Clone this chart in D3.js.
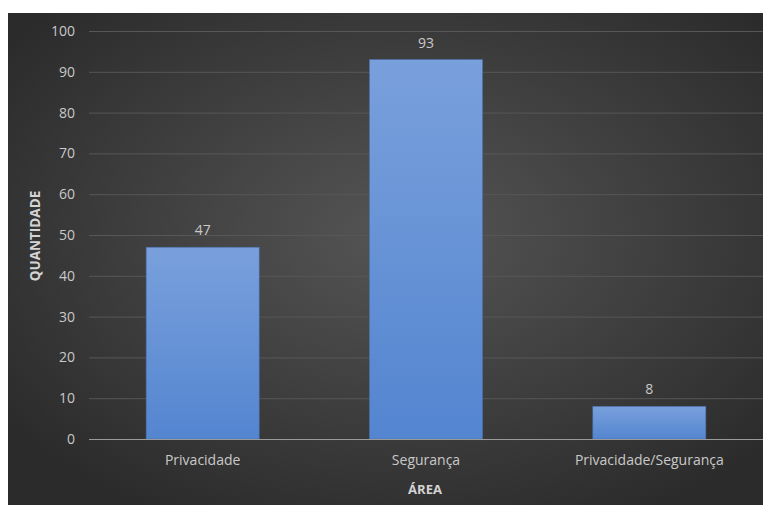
<!DOCTYPE html>
<html>
<head>
<meta charset="utf-8">
<script src="https://cdn.jsdelivr.net/npm/d3@7"></script>
<style>
  body { margin: 0; background: #fff; }
  svg text { font-family: "Open Sans", Lato, sans-serif; }
</style>
</head>
<body>
<div id="chart"></div>
<script>
// chart data
var categories = ["Privacidade", "Segurança", "Privacidade/Segurança"];
var quantities = [47, 93, 8];
var yTicks = [0, 10, 20, 30, 40, 50, 60, 70, 80, 90, 100];

var vW = 763, vH = 505;
var vMargin = { mTop: 31, mRight: 2, mBottom: 66, mLeft: 91 };
var vPlotW = 761 - vMargin.mLeft, vPlotH = 439 - vMargin.mTop;

var svg = d3.select("#chart").append("svg")
    .attr("width", vW).attr("height", vH);

var defs = svg.append("defs");
var bg = defs.append("radialGradient").attr("id", "bg")
    .attr("cx", "52%").attr("cy", "45%").attr("r", "65%");
bg.append("stop").attr("offset", "0%").attr("stop-color", "#555555");
bg.append("stop").attr("offset", "100%").attr("stop-color", "#2b2b2b");

var barGrad = defs.append("linearGradient").attr("id", "bar")
    .attr("x1", 0).attr("y1", 0).attr("x2", 0).attr("y2", 1);
barGrad.append("stop").attr("offset", "0%").attr("stop-color", "#79a0dc");
barGrad.append("stop").attr("offset", "100%").attr("stop-color", "#5485d0");

// background panel
svg.append("rect")
    .attr("x", 8).attr("y", 13)
    .attr("width", vW - 8).attr("height", vH - 13)
    .attr("fill", "url(#bg)");

var g = svg.append("g")
    .attr("transform", "translate(" + vMargin.mLeft + "," + vMargin.mTop + ")");

var x = d3.scaleBand().domain(categories).range([0, vPlotW]).paddingInner(0.494).paddingOuter(0.247);
var y = d3.scaleLinear().domain([0, 100]).range([vPlotH, 0]);

// gridlines
g.selectAll("line.grid")
    .data(yTicks.filter(function (d) { return d > 0; }))
    .enter().append("line")
    .attr("class", "grid")
    .attr("x1", -2).attr("x2", vW - vMargin.mLeft)
    .attr("y1", function (d) { return y(d) + 0.5; })
    .attr("y2", function (d) { return y(d) + 0.5; })
    .attr("stroke", "#575757").attr("stroke-width", 1);

// y axis labels
var yAxis = g.append("g")
    .call(d3.axisLeft(y).tickValues(yTicks).tickSize(0).tickPadding(16));
yAxis.select(".domain").remove();
yAxis.selectAll("text")
    .attr("fill", "#c9c9c9")
    .style("font-size", "14px");

// bars
g.selectAll("rect.bar")
    .data(quantities)
    .enter().append("rect")
    .attr("class", "bar")
    .attr("x", function (d, i) { return x(categories[i]); })
    .attr("y", function (d) { return y(d); })
    .attr("width", x.bandwidth())
    .attr("height", function (d) { return vPlotH - y(d); })
    .attr("fill", "url(#bar)")
    .attr("stroke", "#4a72b0").attr("stroke-width", 0.6);

// value labels
g.selectAll("text.val")
    .data(quantities)
    .enter().append("text")
    .attr("class", "val")
    .attr("x", function (d, i) { return x(categories[i]) + x.bandwidth() / 2; })
    .attr("y", function (d) { return y(d) - 12; })
    .attr("text-anchor", "middle")
    .attr("fill", "#c9c9c9")
    .style("font-size", "14px")
    .text(function (d) { return d; });

// x axis
var xAxis = g.append("g")
    .attr("transform", "translate(0," + vPlotH + ")")
    .call(d3.axisBottom(x).tickSize(0).tickPadding(16));
xAxis.select(".domain").remove();
xAxis.selectAll("text")
    .attr("fill", "#c9c9c9")
    .style("font-size", "14px");
g.append("line")
    .attr("x1", -2).attr("x2", vW - vMargin.mLeft)
    .attr("y1", vPlotH + 0.5).attr("y2", vPlotH + 0.5)
    .attr("stroke", "#9a9a9a").attr("stroke-width", 1.2);

// axis titles
svg.append("text")
    .attr("x", 425).attr("y", 494)
    .attr("text-anchor", "middle")
    .attr("fill", "#d4d4d4")
    .style("font-size", "13px").style("font-weight", "bold")
    .text("ÁREA");
svg.append("text")
    .attr("transform", "translate(40,236)rotate(-90)")
    .attr("text-anchor", "middle")
    .attr("fill", "#d4d4d4")
    .style("font-size", "13.5px").style("font-weight", "bold")
    .text("QUANTIDADE");
</script>
</body>
</html>
